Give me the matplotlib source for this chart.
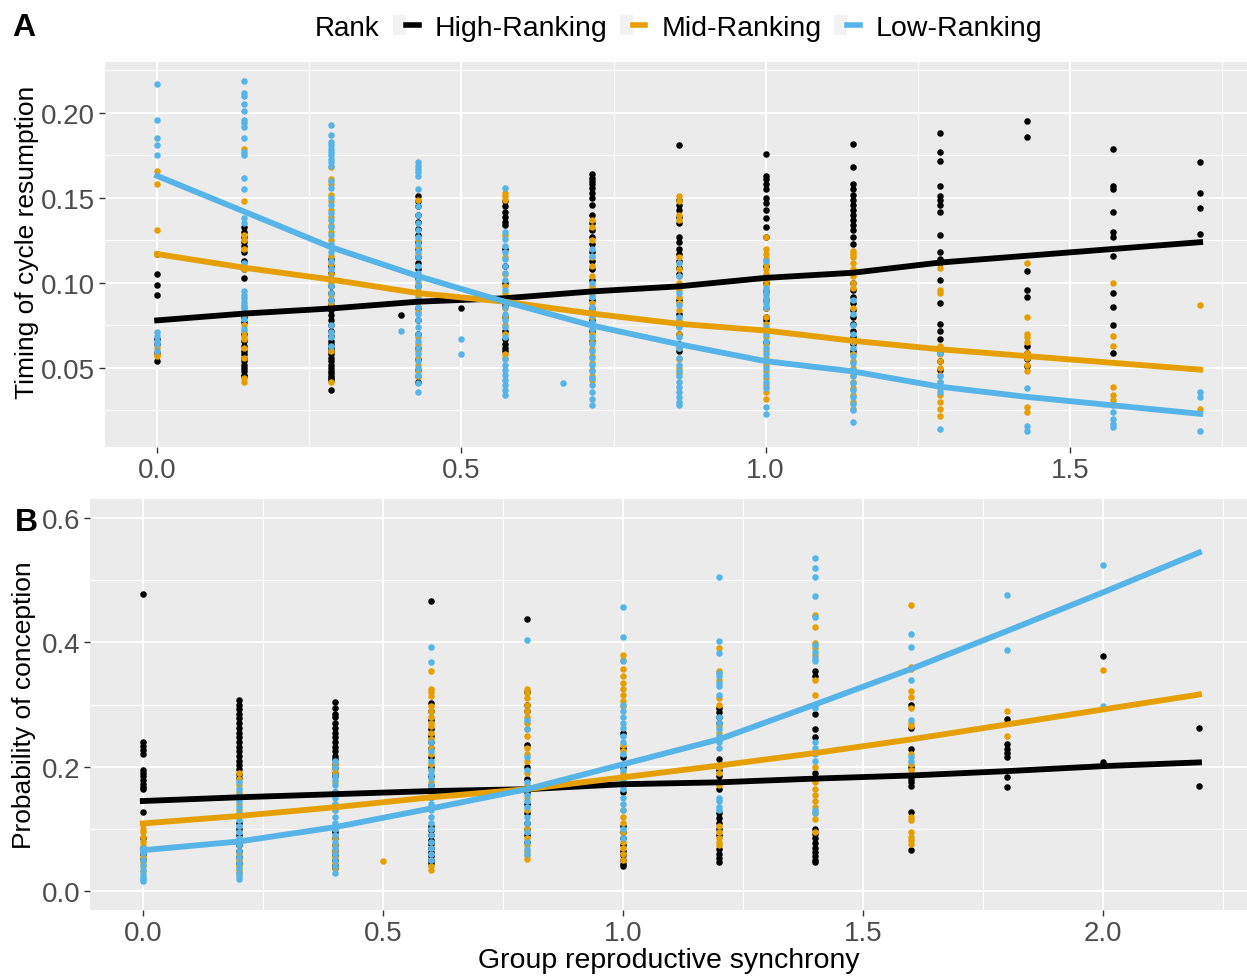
import matplotlib.pyplot as plt
from matplotlib.lines import Line2D
from matplotlib.patches import Patch
from matplotlib.legend_handler import HandlerTuple
from matplotlib.ticker import StrMethodFormatter, MultipleLocator

plt.rcParams['font.family'] = ['Liberation Sans', 'DejaVu Sans']

HIGH_COL = '#000000'
MID_COL = '#E69F00'
LOW_COL = '#56B4E9'

# ---------------- panel A: timing of cycle resumption ----------------
a_x = [0.0, 0.143, 0.286, 0.429, 0.571, 0.714, 0.857, 1.0, 1.143, 1.286, 1.429, 1.571, 1.714]

a_high = [
    [0.117, 0.105, 0.099, 0.093, 0.067, 0.064, 0.059, 0.054],
    [0.133, 0.130, 0.127, 0.124, 0.122, 0.118, 0.113, 0.108, 0.103, 0.080, 0.077, 0.070, 0.066,
     0.063, 0.060, 0.058, 0.056, 0.054, 0.052, 0.050, 0.048, 0.046, 0.045],
    [0.114, 0.110, 0.106, 0.102, 0.098, 0.094, 0.090, 0.087, 0.084, 0.081, 0.078, 0.075, 0.072,
     0.069, 0.066, 0.064, 0.062, 0.060, 0.058, 0.056, 0.054, 0.052, 0.050, 0.048, 0.047, 0.045,
     0.044, 0.043, 0.037],
    [0.151, 0.148, 0.145, 0.140, 0.136, 0.132, 0.128, 0.124, 0.120, 0.115, 0.112, 0.108, 0.103,
     0.098, 0.090, 0.085, 0.078, 0.070, 0.062, 0.055, 0.049, 0.045, 0.042],
    [0.148, 0.145, 0.142, 0.139, 0.136, 0.134, 0.120, 0.110, 0.100, 0.092, 0.087, 0.080, 0.072,
     0.067, 0.064, 0.062, 0.060],
    [0.164, 0.162, 0.160, 0.158, 0.156, 0.153, 0.150, 0.146, 0.140, 0.135, 0.131, 0.127, 0.123,
     0.118, 0.113, 0.108, 0.102, 0.096, 0.090, 0.085, 0.078, 0.072, 0.066],
    [0.181, 0.149, 0.146, 0.143, 0.139, 0.135, 0.127, 0.124, 0.120, 0.117, 0.113, 0.109, 0.105,
     0.098, 0.090, 0.082, 0.075, 0.070, 0.064, 0.060],
    [0.176, 0.163, 0.161, 0.158, 0.155, 0.150, 0.147, 0.143, 0.138, 0.133, 0.127, 0.110, 0.100,
     0.095, 0.090, 0.085, 0.080, 0.078, 0.072, 0.065],
    [0.182, 0.168, 0.158, 0.155, 0.152, 0.149, 0.146, 0.143, 0.140, 0.137, 0.134, 0.131, 0.127,
     0.123, 0.100, 0.096, 0.092, 0.088, 0.084, 0.080, 0.076, 0.072, 0.068, 0.064, 0.060],
    [0.188, 0.177, 0.172, 0.157, 0.151, 0.149, 0.146, 0.142, 0.128, 0.118, 0.114, 0.112, 0.102,
     0.088, 0.076, 0.072, 0.067, 0.059, 0.054, 0.049],
    [0.195, 0.186, 0.107, 0.096, 0.092, 0.063, 0.059, 0.055, 0.051],
    [0.179, 0.157, 0.155, 0.142, 0.130, 0.127, 0.116, 0.094, 0.086, 0.075, 0.059],
    [0.171, 0.153, 0.144, 0.129],
]

a_mid = [
    [0.166, 0.158, 0.131, 0.117, 0.062, 0.058, 0.057],
    [0.179, 0.148, 0.128, 0.125, 0.120, 0.110, 0.108, 0.086, 0.082, 0.075, 0.072, 0.069, 0.067,
     0.062, 0.056, 0.044, 0.042],
    [0.168, 0.161, 0.158, 0.152, 0.148, 0.143, 0.139, 0.134, 0.130, 0.125, 0.121, 0.116, 0.111,
     0.105, 0.100, 0.093, 0.088, 0.060, 0.042],
    [0.149, 0.125, 0.121, 0.117, 0.100, 0.095, 0.092, 0.089, 0.086, 0.083, 0.068, 0.064, 0.060,
     0.056, 0.052, 0.048, 0.045],
    [0.153, 0.151, 0.149, 0.128, 0.115, 0.105, 0.098, 0.094, 0.085, 0.080, 0.075, 0.070, 0.058,
     0.056],
    [0.137, 0.133, 0.125, 0.115, 0.110, 0.104, 0.098, 0.093, 0.088, 0.084, 0.080, 0.076, 0.070,
     0.065, 0.061, 0.057, 0.053, 0.049, 0.045, 0.043],
    [0.151, 0.148, 0.140, 0.137, 0.115, 0.112, 0.108, 0.104, 0.100, 0.096, 0.092, 0.088, 0.084,
     0.078, 0.070, 0.062, 0.055, 0.050, 0.047],
    [0.127, 0.120, 0.117, 0.114, 0.111, 0.108, 0.105, 0.102, 0.099, 0.096, 0.093, 0.090, 0.085,
     0.080, 0.076, 0.072, 0.068, 0.064, 0.060, 0.056, 0.052, 0.048, 0.044, 0.040, 0.036, 0.032],
    [0.119, 0.117, 0.115, 0.112, 0.108, 0.104, 0.100, 0.097, 0.085, 0.065, 0.058, 0.054, 0.050,
     0.046, 0.042, 0.038, 0.034, 0.030, 0.026],
    [0.109, 0.096, 0.094, 0.063, 0.058, 0.054, 0.050, 0.046, 0.042, 0.038, 0.034, 0.030, 0.026,
     0.022],
    [0.112, 0.080, 0.070, 0.068, 0.065, 0.059, 0.056, 0.052, 0.048, 0.027, 0.024],
    [0.100, 0.069, 0.063, 0.039, 0.034, 0.031],
    [0.087, 0.026],
]

a_low = [
    [0.217, 0.196, 0.185, 0.181, 0.175, 0.071, 0.069, 0.066, 0.064, 0.060],
    [0.219, 0.212, 0.210, 0.205, 0.201, 0.196, 0.194, 0.192, 0.185, 0.177, 0.175, 0.162, 0.155,
     0.138, 0.135, 0.112, 0.095, 0.093, 0.091, 0.089, 0.087, 0.085, 0.083, 0.079, 0.073],
    [0.193, 0.187, 0.183, 0.181, 0.179, 0.177, 0.175, 0.173, 0.171, 0.169, 0.160, 0.156, 0.150,
     0.146, 0.141, 0.137, 0.133, 0.128, 0.123, 0.118, 0.113, 0.108, 0.103, 0.098, 0.094, 0.090,
     0.075, 0.071, 0.068, 0.063],
    [0.171, 0.169, 0.167, 0.165, 0.163, 0.155, 0.145, 0.140, 0.135, 0.131, 0.127, 0.123, 0.119,
     0.115, 0.110, 0.106, 0.102, 0.098, 0.094, 0.090, 0.086, 0.082, 0.078, 0.074, 0.070, 0.066,
     0.062, 0.058, 0.054, 0.050, 0.046, 0.041, 0.036],
    [0.156, 0.130, 0.126, 0.122, 0.118, 0.114, 0.110, 0.106, 0.102, 0.096, 0.090, 0.086, 0.082,
     0.078, 0.074, 0.068, 0.055, 0.052, 0.049, 0.046, 0.043, 0.040, 0.037, 0.034],
    [0.120, 0.116, 0.100, 0.092, 0.086, 0.081, 0.077, 0.073, 0.068, 0.064, 0.060, 0.056, 0.052,
     0.048, 0.044, 0.040, 0.036, 0.032, 0.028],
    [0.112, 0.104, 0.094, 0.087, 0.080, 0.074, 0.068, 0.062, 0.056, 0.052, 0.048, 0.045, 0.042,
     0.039, 0.036, 0.033, 0.030, 0.028],
    [0.113, 0.097, 0.094, 0.091, 0.088, 0.086, 0.074, 0.070, 0.066, 0.062, 0.058, 0.054, 0.050,
     0.046, 0.042, 0.038, 0.027, 0.023],
    [0.090, 0.082, 0.075, 0.070, 0.066, 0.062, 0.057, 0.053, 0.049, 0.045, 0.041, 0.037, 0.033,
     0.029, 0.025, 0.018],
    [0.059, 0.045, 0.042, 0.039, 0.036, 0.014],
    [0.038, 0.016, 0.013],
    [0.028, 0.024, 0.020, 0.017, 0.015],
    [0.036, 0.033, 0.013],
]

# odd synchrony values off the main grid
a_high_extra_x = [0.4, 0.5]
a_high_extra_y = [0.081, 0.085]
a_low_extra_x = [0.4, 0.5, 0.5, 0.667]
a_low_extra_y = [0.072, 0.067, 0.058, 0.041]

# fitted curves, read at each synchrony value
a_fit_high = [0.078, 0.082, 0.085, 0.089, 0.091, 0.095, 0.098, 0.103, 0.106, 0.112, 0.116, 0.120, 0.124]
a_fit_mid = [0.117, 0.109, 0.102, 0.094, 0.089, 0.082, 0.076, 0.072, 0.066, 0.061, 0.057, 0.053, 0.049]
a_fit_low = [0.163, 0.142, 0.121, 0.104, 0.089, 0.075, 0.064, 0.054, 0.048, 0.039, 0.033, 0.028, 0.023]

# ---------------- panel B: probability of conception ----------------
b_x = [0.0, 0.2, 0.4, 0.6, 0.8, 1.0, 1.2, 1.4, 1.6, 1.8, 2.0, 2.2]

b_high = [
    [0.477, 0.239, 0.233, 0.227, 0.220, 0.195, 0.190, 0.185, 0.178, 0.173, 0.168, 0.164, 0.127,
     0.085, 0.070, 0.060, 0.052],
    [0.308, 0.300, 0.292, 0.285, 0.278, 0.270, 0.262, 0.255, 0.248, 0.240, 0.232, 0.225, 0.218,
     0.210, 0.203, 0.196, 0.189, 0.182, 0.110, 0.100, 0.090, 0.075, 0.065, 0.055, 0.045],
    [0.304, 0.295, 0.285, 0.280, 0.270, 0.262, 0.255, 0.248, 0.240, 0.232, 0.225, 0.218, 0.212,
     0.205, 0.198, 0.190, 0.185, 0.160, 0.095, 0.085, 0.075, 0.065, 0.058, 0.050, 0.043, 0.037],
    [0.466, 0.303, 0.290, 0.275, 0.260, 0.250, 0.240, 0.230, 0.215, 0.200, 0.185, 0.170, 0.105,
     0.098, 0.090, 0.083, 0.076, 0.070, 0.063, 0.057, 0.051, 0.046],
    [0.437, 0.320, 0.300, 0.290, 0.235, 0.200, 0.180, 0.160, 0.140, 0.125, 0.110, 0.100, 0.090,
     0.080],
    [0.255, 0.230, 0.215, 0.200, 0.185, 0.170, 0.160, 0.105, 0.095, 0.085, 0.075, 0.065, 0.058,
     0.050, 0.044, 0.040],
    [0.295, 0.288, 0.280, 0.270, 0.212, 0.195, 0.185, 0.175, 0.164, 0.125, 0.118, 0.110, 0.100,
     0.090, 0.068, 0.060, 0.053, 0.047],
    [0.354, 0.346, 0.285, 0.260, 0.248, 0.190, 0.180, 0.100, 0.092, 0.085, 0.078, 0.070, 0.063,
     0.056, 0.050, 0.047],
    [0.299, 0.262, 0.228, 0.200, 0.180, 0.175, 0.169, 0.127, 0.067],
    [0.277, 0.236, 0.228, 0.222, 0.215, 0.183, 0.167],
    [0.378, 0.207],
    [0.262, 0.169],
]

b_mid = [
    [0.108, 0.100, 0.095, 0.088, 0.080, 0.072, 0.064, 0.055, 0.047, 0.040, 0.032],
    [0.190, 0.180, 0.170, 0.160, 0.150, 0.140, 0.130, 0.060, 0.050, 0.040, 0.035, 0.030],
    [0.205, 0.198, 0.190, 0.175, 0.140, 0.130, 0.085, 0.075, 0.065, 0.055, 0.045, 0.038],
    [0.354, 0.325, 0.320, 0.314, 0.297, 0.290, 0.280, 0.270, 0.265, 0.255, 0.245, 0.230, 0.220,
     0.205, 0.195, 0.175, 0.165, 0.155, 0.040, 0.035],
    [0.325, 0.318, 0.310, 0.300, 0.290, 0.280, 0.270, 0.260, 0.250, 0.230, 0.220, 0.210, 0.190,
     0.170, 0.150, 0.130, 0.100, 0.085, 0.075, 0.065, 0.058, 0.052],
    [0.379, 0.372, 0.357, 0.345, 0.335, 0.325, 0.315, 0.305, 0.297, 0.235, 0.225, 0.190, 0.175,
     0.130, 0.120, 0.110, 0.095, 0.080, 0.070, 0.060, 0.050],
    [0.390, 0.354, 0.340, 0.310, 0.300, 0.265, 0.255, 0.200, 0.190, 0.170, 0.105, 0.095, 0.085,
     0.080, 0.075],
    [0.443, 0.424, 0.398, 0.390, 0.380, 0.340, 0.315, 0.200, 0.175, 0.165, 0.155, 0.145, 0.135,
     0.125, 0.116, 0.095],
    [0.460, 0.361, 0.357, 0.321, 0.312, 0.295, 0.270, 0.265, 0.220, 0.205, 0.195, 0.120, 0.115,
     0.095, 0.088, 0.082, 0.076],
    [0.289, 0.249],
    [0.355],
    [],
]

b_low = [
    [0.070, 0.062, 0.050, 0.042, 0.035, 0.028, 0.023, 0.019, 0.016],
    [0.175, 0.165, 0.155, 0.145, 0.135, 0.125, 0.115, 0.105, 0.095, 0.085, 0.075, 0.065, 0.055,
     0.045, 0.037, 0.030, 0.024, 0.020],
    [0.210, 0.200, 0.185, 0.178, 0.170, 0.160, 0.150, 0.140, 0.130, 0.120, 0.110, 0.100, 0.090,
     0.080, 0.070, 0.060, 0.050, 0.040, 0.030],
    [0.392, 0.369, 0.240, 0.225, 0.210, 0.195, 0.188, 0.182, 0.170, 0.160, 0.150, 0.140, 0.130,
     0.120, 0.110, 0.100, 0.090, 0.080, 0.070, 0.060, 0.050],
    [0.403, 0.275, 0.260, 0.215, 0.195, 0.175, 0.165, 0.155, 0.145, 0.135, 0.120, 0.110, 0.095,
     0.080, 0.068, 0.060],
    [0.456, 0.408, 0.370, 0.300, 0.290, 0.280, 0.270, 0.262, 0.250, 0.240, 0.220, 0.205, 0.195,
     0.180, 0.165, 0.150, 0.140, 0.130, 0.100, 0.085],
    [0.504, 0.402, 0.383, 0.350, 0.345, 0.335, 0.330, 0.315, 0.280, 0.270, 0.260, 0.250, 0.240,
     0.230, 0.150, 0.145, 0.135, 0.130],
    [0.535, 0.520, 0.504, 0.474, 0.440, 0.395, 0.385, 0.375, 0.370, 0.300, 0.295, 0.240, 0.230,
     0.220, 0.210, 0.130, 0.125],
    [0.413, 0.393, 0.339, 0.275, 0.215, 0.210],
    [0.476, 0.387],
    [0.524, 0.297],
    [],
]

b_mid_extra_x = [0.5]
b_mid_extra_y = [0.048]

b_fit_high = [0.145, 0.151, 0.156, 0.161, 0.164, 0.172, 0.175, 0.181, 0.186, 0.193, 0.201, 0.207]
b_fit_mid = [0.109, 0.121, 0.135, 0.151, 0.164, 0.183, 0.202, 0.222, 0.244, 0.268, 0.292, 0.316]
b_fit_low = [0.066, 0.080, 0.103, 0.133, 0.164, 0.204, 0.244, 0.300, 0.357, 0.418, 0.480, 0.544]


def flatten(xs, cols):
    px, py = [], []
    for x, col in zip(xs, cols):
        px += [x] * len(col)
        py += col
    return px, py


def style(ax):
    ax.set_facecolor('#EBEBEB')
    for s in ax.spines.values():
        s.set_visible(False)
    ax.grid(which='major', color='white', lw=1.4)
    ax.grid(which='minor', color='white', lw=0.7)
    ax.set_axisbelow(True)
    ax.tick_params(which='major', length=4, width=1, color='#333333',
                   labelsize=20, labelcolor='#4D4D4D', pad=3)
    ax.tick_params(which='minor', length=0)


fig = plt.figure(figsize=(12.47, 9.78), dpi=100)
W, H = 1247, 978

axA = fig.add_axes([105 / W, 1 - 448 / H, (W - 105) / W, 385 / H])
axB = fig.add_axes([90 / W, 1 - 911 / H, (W - 90) / W, 411 / H])

pt = dict(s=22, linewidths=0, zorder=2)
lw = 4.2

# panel A
for cols, c in [(a_high, HIGH_COL), (a_mid, MID_COL), (a_low, LOW_COL)]:
    px, py = flatten(a_x, cols)
    axA.scatter(px, py, color=c, **pt)
axA.scatter(a_high_extra_x, a_high_extra_y, color=HIGH_COL, **pt)
axA.scatter(a_low_extra_x, a_low_extra_y, color=LOW_COL, **pt)
axA.plot(a_x, a_fit_high, color=HIGH_COL, lw=lw, zorder=3)
axA.plot(a_x, a_fit_mid, color=MID_COL, lw=lw, zorder=3)
axA.plot(a_x, a_fit_low, color=LOW_COL, lw=lw, zorder=3)

style(axA)
axA.set_xlim(-0.0857, 1.791)
axA.set_ylim(0.0035, 0.230)
axA.xaxis.set_major_locator(MultipleLocator(0.5))
axA.xaxis.set_minor_locator(MultipleLocator(0.25))
axA.yaxis.set_major_locator(MultipleLocator(0.05))
axA.yaxis.set_minor_locator(MultipleLocator(0.025))
axA.xaxis.set_major_formatter(StrMethodFormatter('{x:.1f}'))
axA.yaxis.set_major_formatter(StrMethodFormatter('{x:.2f}'))
axA.set_ylabel('Timing of cycle resumption', fontsize=19)
axA.yaxis.set_label_coords(-0.058, 0.535)

# panel B
for cols, c in [(b_high, HIGH_COL), (b_mid, MID_COL), (b_low, LOW_COL)]:
    px, py = flatten(b_x, cols)
    axB.scatter(px, py, color=c, **pt)
axB.scatter(b_mid_extra_x, b_mid_extra_y, color=MID_COL, **pt)
axB.plot(b_x, b_fit_high, color=HIGH_COL, lw=lw, zorder=3)
axB.plot(b_x, b_fit_mid, color=MID_COL, lw=lw, zorder=3)
axB.plot(b_x, b_fit_low, color=LOW_COL, lw=lw, zorder=3)

style(axB)
axB.set_xlim(-0.11, 2.30)
axB.set_ylim(-0.03, 0.63)
axB.xaxis.set_major_locator(MultipleLocator(0.5))
axB.xaxis.set_minor_locator(MultipleLocator(0.25))
axB.yaxis.set_major_locator(MultipleLocator(0.2))
axB.yaxis.set_minor_locator(MultipleLocator(0.1))
axB.xaxis.set_major_formatter(StrMethodFormatter('{x:.1f}'))
axB.yaxis.set_major_formatter(StrMethodFormatter('{x:.1f}'))
axB.set_ylabel('Probability of conception', fontsize=19, labelpad=4)
axB.set_xlabel('Group reproductive synchrony', fontsize=20.5, labelpad=1)

# panel letters
fig.text(12 / W, 1 - 28 / H, 'A', fontsize=23, fontweight='bold', va='center', ha='left')
fig.text(15 / W, 1 - 523 / H, 'B', fontsize=23, fontweight='bold', va='center', ha='left')

# legend on top
fig.text(315 / W, 1 - 29 / H, 'Rank', fontsize=20, va='center', ha='left')
handles = [(Patch(fc='#F2F2F2', ec='none'), Line2D([], [], color=c, lw=4))
           for c in (HIGH_COL, MID_COL, LOW_COL)]
fig.legend(handles, ['High-Ranking', 'Mid-Ranking', 'Low-Ranking'],
           handler_map={tuple: HandlerTuple(ndivide=None, pad=0)},
           loc='center left', bbox_to_anchor=(393 / W, 1 - 29 / H), ncol=3,
           frameon=False, fontsize=20.5, handlelength=0.9, handletextpad=0.55,
           columnspacing=0.45, borderaxespad=0, borderpad=0)

fig.savefig('out.png', dpi=100)
